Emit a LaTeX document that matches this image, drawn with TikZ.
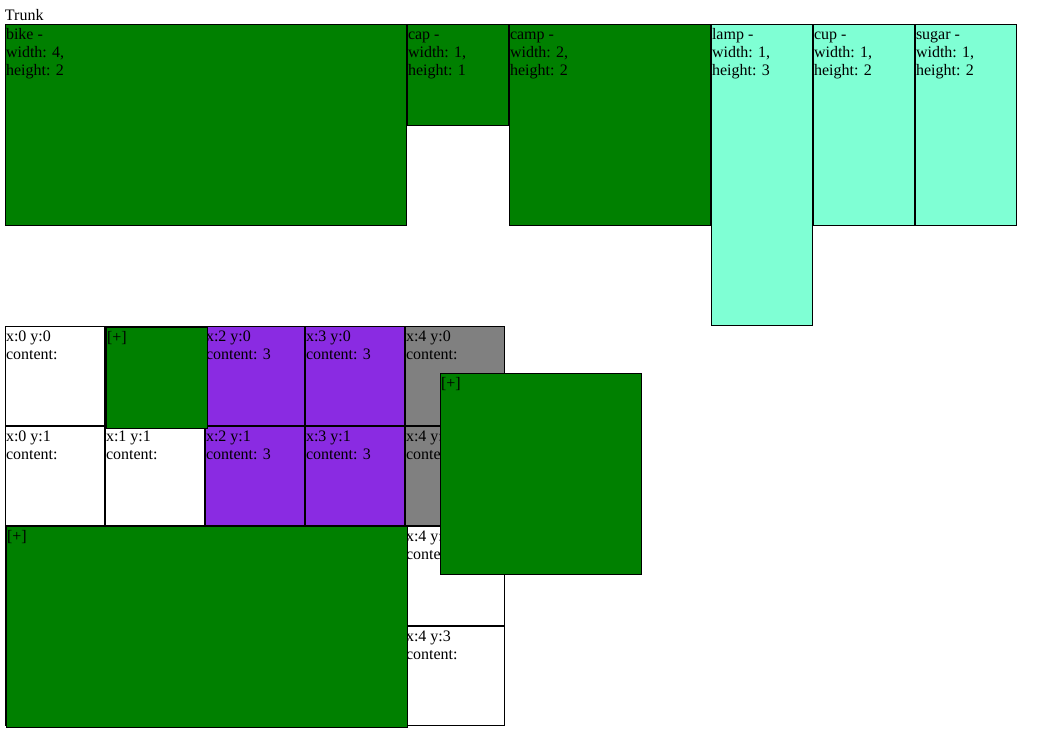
\documentclass[tikz,border=0pt]{standalone}
\usepackage{fontspec}
\setmainfont{Liberation Serif}
\definecolor{itemgreen}{HTML}{008000}
\definecolor{itemaqua}{HTML}{7FFFD4}
\definecolor{cellviolet}{HTML}{8A2BE2}
\definecolor{cellgray}{HTML}{808080}

\tikzset{
  box/.style={draw=black, line width=1pt, anchor=north west, inner sep=0pt, outer sep=0pt},
  txt/.style={anchor=north west, inner sep=0pt, outer sep=0pt, align=left,
              font=\fontsize{16}{18}\selectfont},
}

% box: name, left, top, width, height, fill (pixel units, y downwards)
\newcommand\itembox[6]{%
  \node[box, fill=#6, minimum width=#4-1, minimum height=#5-1] (#1) at (#2+0.5,#3+0.5) {};}
% text block in the top-left corner of a box
\newcommand\itemtext[4]{%
  \node[txt] (#1) at (#2+1,#3+2.4) {\strut #4};}

\begin{document}
\begin{tikzpicture}[x=1pt,y=-1pt]
\useasboundingbox (0,0) rectangle (1053,747);

% title
\node[txt] (title) at (5,7.4) {\strut Trunk};

% trunk items
\itembox{bike}{5}{24}{402}{202}{itemgreen}
\itemtext{bikeT}{5}{24}{bike -\\width: 4,\\height: 2}
\itembox{cap}{407}{24}{102}{102}{itemgreen}
\itemtext{capT}{407}{24}{cap -\\width: 1,\\height: 1}
\itembox{camp}{509}{24}{202}{202}{itemgreen}
\itemtext{campT}{509}{24}{camp -\\width: 2,\\height: 2}
\itembox{lamp}{711}{24}{102}{302}{itemaqua}
\itemtext{lampT}{711}{24}{lamp -\\width: 1,\\height: 3}
\itembox{cup}{813}{24}{102}{202}{itemaqua}
\itemtext{cupT}{813}{24}{cup -\\width: 1,\\height: 2}
\itembox{sugar}{915}{24}{102}{202}{itemaqua}
\itemtext{sugarT}{915}{24}{sugar -\\width: 1,\\height: 2}

% grid cells
\foreach \i in {0,...,4}{
  \foreach \j in {0,...,3}{
    \pgfmathsetmacro\cx{5+100*\i}
    \pgfmathsetmacro\cy{326+100*\j}
    \itembox{c\i\j}{\cx}{\cy}{100}{100}{white}
  }
}
\foreach \i/\j in {2/0,3/0,2/1,3/1}{
  \pgfmathsetmacro\cx{5+100*\i}
  \pgfmathsetmacro\cy{326+100*\j}
  \itembox{c\i\j}{\cx}{\cy}{100}{100}{cellviolet}
  \itemtext{t\i\j}{\cx}{\cy}{x:\i\ y:\j\\content: 3}
}
\foreach \j in {0,1}{
  \pgfmathsetmacro\cy{326+100*\j}
  \itembox{c4\j}{405}{\cy}{100}{100}{cellgray}
  \itemtext{t4\j}{405}{\cy}{x:4 y:\j\\content:}
}
\foreach \i/\j in {0/0,0/1,1/1,4/2,4/3}{
  \pgfmathsetmacro\cx{5+100*\i}
  \pgfmathsetmacro\cy{326+100*\j}
  \itemtext{t\i\j}{\cx}{\cy}{x:\i\ y:\j\\content:}
}

% placed items
\itembox{gA}{106}{327}{102}{102}{itemgreen}
\itemtext{gAT}{106}{327}{[+]}
\itembox{gB}{6}{526}{402}{202}{itemgreen}
\itemtext{gBT}{6}{526}{[+]}
\itembox{gC}{440}{373}{202}{202}{itemgreen}
\itemtext{gCT}{440}{373}{[+]}
\end{tikzpicture}
\end{document}
